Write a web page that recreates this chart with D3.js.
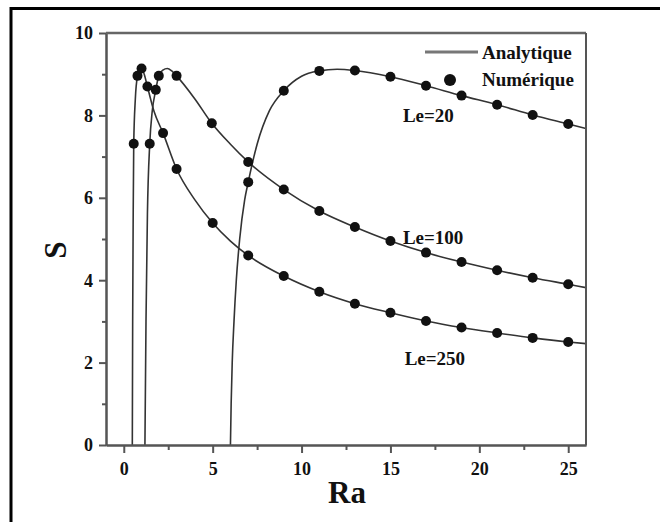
<!DOCTYPE html>
<html>
<head>
<meta charset="utf-8">
<script src="https://cdn.jsdelivr.net/npm/d3@7"></script>
<style>
    body { margin: 0; background: #fff; }
    text { font-family: "Liberation Serif", "Times New Roman", serif; font-weight: bold; fill: #111; }
</style>
</head>
<body>
<div id="chart-div"></div>
<script>
// analytic curves (Ra, S)
const analytic_le20 = [
    [6.0, 0], [6.04, 1.0], [6.1, 2.0], [6.2, 3.0], [6.33, 4.0], [6.52, 5.0], [6.8, 5.95],
    [7.0, 6.38], [7.5, 7.3], [8.2, 8.12], [9, 8.6], [10, 8.95], [11, 9.08], [12, 9.12],
    [13, 9.09], [15, 8.94], [17, 8.72], [19, 8.48], [21, 8.26], [23, 8.01], [25, 7.79], [26, 7.68]
]
const analytic_le100 = [
    [1.19, 0], [1.25, 3.0], [1.33, 5.6], [1.46, 7.31], [1.6, 8.1], [1.8, 8.62], [1.97, 8.96],
    [2.2, 9.1], [2.45, 9.14], [2.7, 9.08], [2.97, 8.96], [4, 8.4], [4.95, 7.81], [6, 7.3],
    [7, 6.87], [9, 6.2], [11, 5.68], [13, 5.29], [15, 4.95], [17, 4.67], [19, 4.44],
    [21, 4.24], [23, 4.06], [25, 3.9], [26, 3.82]
]
const analytic_le250 = [
    [0.48, 0], [0.5, 3.0], [0.53, 5.6], [0.56, 7.31], [0.65, 8.4], [0.77, 8.96], [0.9, 9.12],
    [1.0, 9.15], [1.15, 9.0], [1.33, 8.7], [1.7, 8.1], [2.21, 7.57], [2.97, 6.7], [4, 5.95],
    [5, 5.39], [6, 4.95], [7, 4.6], [9, 4.1], [11, 3.72], [13, 3.43], [15, 3.21], [17, 3.01],
    [19, 2.85], [21, 2.72], [23, 2.6], [25, 2.5], [26, 2.46]
]

// numerical points
const numeric_le20 = [
    [7, 6.38], [9, 8.6], [11, 9.08], [13, 9.09], [15, 8.94], [17, 8.72], [19, 8.48],
    [21, 8.26], [23, 8.01], [25, 7.79]
]
const numeric_le100 = [
    [1.46, 7.31], [1.8, 8.62], [1.97, 8.96], [2.97, 8.96], [4.95, 7.81], [7, 6.87], [9, 6.2],
    [11, 5.68], [13, 5.29], [15, 4.95], [17, 4.67], [19, 4.44], [21, 4.24], [23, 4.06], [25, 3.9]
]
const numeric_le250 = [
    [0.56, 7.31], [0.77, 8.96], [1.0, 9.14], [1.33, 8.7], [2.21, 7.57], [2.97, 6.7], [5, 5.39],
    [7, 4.6], [9, 4.1], [11, 3.72], [13, 3.43], [15, 3.21], [17, 3.01], [19, 2.85],
    [21, 2.72], [23, 2.6], [25, 2.5]
]

const x_ticks = [0, 5, 10, 15, 20, 25]
const x_minor = [2.5, 7.5, 12.5, 17.5, 22.5]
const y_ticks = [0, 2, 4, 6, 8, 10]
const y_minor = [1, 3, 5, 7, 9]

const curve_labels = [
    {text: "Le=20", ra: 15.7, s: 7.85},
    {text: "Le=100", ra: 15.7, s: 4.88},
    {text: "Le=250", ra: 15.8, s: 1.95},
]
const legend_names = ["Analytique", "Numérique"]

function initialize_chart() {
    const width = 660
    const height = 522

    const x = d3.scaleLinear().domain([-1, 26]).range([106, 586])
    const y = d3.scaleLinear().domain([0, 10]).range([445, 33])

    const svg = d3.create("svg")
        .attr("width", width)
        .attr("height", height)

    // outer frame, runs off the right and bottom edges
    svg.append("rect")
        .attr("x", 11).attr("y", 8.5)
        .attr("width", 700).attr("height", 560)
        .attr("fill", "none")
        .attr("stroke", "#000")
        .attr("stroke-width", 3)

    svg.append("clipPath").attr("id", "plot-clip")
        .append("rect")
        .attr("x", x.range()[0]).attr("y", y.range()[1])
        .attr("width", x.range()[1] - x.range()[0])
        .attr("height", y.range()[0] - y.range()[1])

    const line = d3.line()
        .x(d => x(d[0]))
        .y(d => y(d[1]))
        .curve(d3.curveMonotoneX)

    const curves = svg.append("g")
        .attr("clip-path", "url(#plot-clip)")
        .attr("fill", "none")
        .attr("stroke", "#333")
        .attr("stroke-width", 1.6)

    curves.selectAll("path")
        .data([analytic_le20, analytic_le100, analytic_le250])
        .join("path")
        .attr("d", line)

    const all_points = [].concat(numeric_le20, numeric_le100, numeric_le250)
    svg.append("g")
        .attr("fill", "#111")
        .selectAll("circle")
        .data(all_points)
        .join("circle")
        .attr("cx", d => x(d[0]))
        .attr("cy", d => y(d[1]))
        .attr("r", 5)

    // axes
    const axis_color = "#555"
    const x_axis = svg.append("g")
        .attr("transform", `translate(0,${y(0)})`)
        .call(d3.axisBottom(x).tickValues(x_ticks).tickSize(8).tickSizeOuter(0).tickPadding(6))
    const x_axis_minor = svg.append("g")
        .attr("transform", `translate(0,${y(0)})`)
        .call(d3.axisBottom(x).tickValues(x_minor).tickSize(5).tickSizeOuter(0).tickFormat(""))
    const y_axis = svg.append("g")
        .attr("transform", `translate(${x(-1)},0)`)
        .call(d3.axisLeft(y).tickValues(y_ticks).tickSize(7).tickSizeOuter(0).tickPadding(6))
    const y_axis_minor = svg.append("g")
        .attr("transform", `translate(${x(-1)},0)`)
        .call(d3.axisLeft(y).tickValues(y_minor).tickSize(4).tickSizeOuter(0).tickFormat(""))

    for (const ax of [x_axis, x_axis_minor, y_axis, y_axis_minor]) {
        ax.selectAll("path").attr("stroke", axis_color).attr("stroke-width", 2)
        ax.selectAll("line").attr("stroke", axis_color).attr("stroke-width", 2)
        ax.selectAll("text")
            .attr("font-family", null)
            .attr("font-size", 18)
            .attr("fill", "#111")
    }
    x_axis.selectAll("text").attr("dy", "0.9em")
    y_axis.selectAll("text").attr("dy", "0.33em")

    // top and right frame of the plot
    svg.append("line")
        .attr("x1", x(-1)).attr("x2", x(26))
        .attr("y1", y(10)).attr("y2", y(10))
        .attr("stroke", "#666").attr("stroke-width", 2.5)
    svg.append("line")
        .attr("x1", x(26)).attr("x2", x(26))
        .attr("y1", y(10)).attr("y2", y(0))
        .attr("stroke", axis_color).attr("stroke-width", 2)

    // axis titles
    svg.append("text")
        .attr("x", 347).attr("y", 503)
        .attr("text-anchor", "middle")
        .attr("font-size", 31)
        .text("Ra")
    svg.append("text")
        .attr("transform", "translate(66,250) rotate(-90)")
        .attr("text-anchor", "middle")
        .attr("font-size", 31)
        .text("S")

    // curve labels
    svg.append("g")
        .selectAll("text")
        .data(curve_labels)
        .join("text")
        .attr("x", d => x(d.ra))
        .attr("y", d => y(d.s))
        .attr("font-size", 19)
        .text(d => d.text)

    // legend
    const legend = svg.append("g")
    legend.append("line")
        .attr("x1", 425).attr("x2", 478)
        .attr("y1", 52).attr("y2", 52)
        .attr("stroke", "#777").attr("stroke-width", 3)
    legend.append("circle")
        .attr("cx", 450).attr("cy", 80)
        .attr("r", 6).attr("fill", "#111")
    legend.selectAll("text")
        .data(legend_names)
        .join("text")
        .attr("x", 482)
        .attr("y", (d, i) => 59 + i * 27)
        .attr("font-size", 19)
        .text(d => d)

    d3.select("#chart-div").append(() => svg.node())
}

initialize_chart()
</script>
</body>
</html>
